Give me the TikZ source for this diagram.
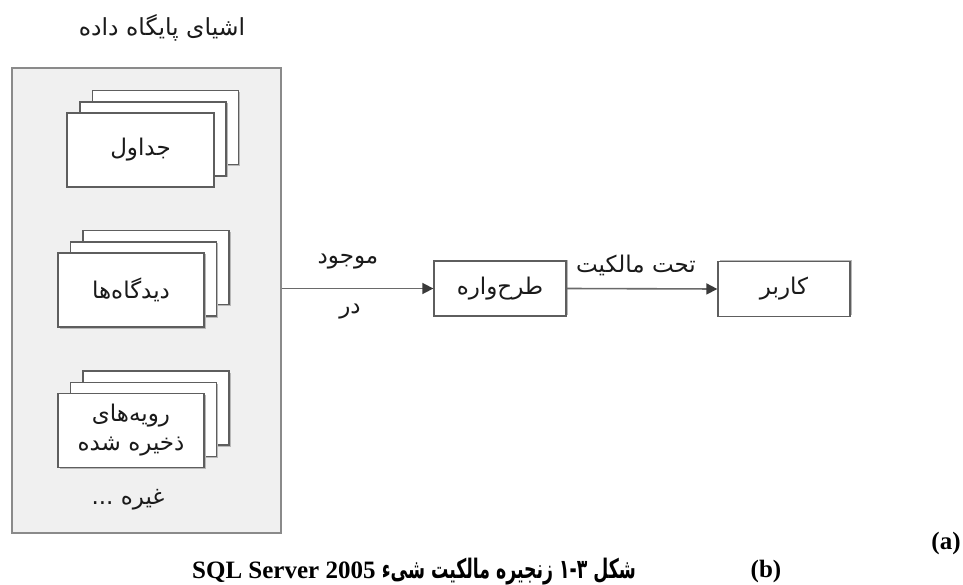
\documentclass[tikz,border=0pt]{standalone}
\usepackage{fontspec}
\setmainfont{Liberation Serif}
\newfontfamily\fa[Script=Arabic]{DejaVu Sans}
\TeXXeTstate=1
\usetikzlibrary{arrows.meta}
\definecolor{panelfill}{HTML}{F0F0F0}
\definecolor{panelline}{HTML}{8A8A8A}
\definecolor{cardline}{HTML}{5E5E5E}
\definecolor{shadowc}{HTML}{B8B8B8}
\definecolor{connc}{HTML}{6A6A6A}
\definecolor{tipc}{HTML}{3A3A3A}
\definecolor{txt}{HTML}{1A1A1A}
\tikzset{
  outerbox/.style={draw=panelline, fill=panelfill, line width=1.5pt},
  card/.style={draw=cardline, fill=white, line width=1.3pt, minimum width=146pt, minimum height=74pt, inner sep=0pt},
  cardshadow/.style={fill=shadowc, minimum width=146pt, minimum height=74pt, inner sep=0pt},
  flowbox/.style={draw=cardline, fill=white, line width=1.3pt, minimum width=132pt, minimum height=55pt, inner sep=0pt},
  conn/.style={draw=connc, line width=1.6pt, -{Triangle[length=11pt,width=11pt,color=tipc]}},
  lbl/.style={font=\fa\fontsize{23}{29}\selectfont, text=txt, inner sep=0pt, align=center},
  captxt/.style={font=\bfseries\fontsize{25}{27}\selectfont, text=black, inner sep=0pt}
}
\begin{document}
\begin{tikzpicture}[x=1pt,y=-1pt]
\useasboundingbox (0,0) rectangle (963,585);
% title
\node[lbl, font=\fa\fontsize{23.5}{28}\selectfont] (title) at (162,28) {\beginR اشیای پایگاه داده\endR};
% outer panel
\node[outerbox, minimum width=269pt, minimum height=465pt, inner sep=0pt] (db) at (146.5,300.5) {};
% stack 1
\foreach \dx/\dy/\nm in {25/-22.5/a3, 12.5/-11/a2}{
  \node[cardshadow] at (140.5+\dx+1.5,150+\dy+1.5) {};
  \node[card] (\nm) at (140.5+\dx,150+\dy) {};
}
\node[cardshadow] at (142,151.5) {};
\node[card, minimum width=147pt] (tables) at (140.5,150) {};
\node[lbl] (tablestxt) at (tables) {\beginR جداول\endR};
% stack 2
\foreach \dx/\dy/\nm in {25/-22.5/b3, 12.5/-11/b2}{
  \node[cardshadow] at (131+\dx+1.5,290+\dy+1.5) {};
  \node[card] (\nm) at (131+\dx,290+\dy) {};
}
\node[cardshadow] at (132.5,291.5) {};
\node[card] (views) at (131,290) {};
\node[lbl] (viewstxt) at (views) {\beginR دیدگاه‌ها\endR};
% stack 3
\foreach \dx/\dy/\nm in {25/-22.5/c3, 12.5/-11/c2}{
  \node[cardshadow] at (131+\dx+1.5,430.5+\dy+1.5) {};
  \node[card] (\nm) at (131+\dx,430.5+\dy) {};
}
\node[cardshadow] at (132.5,432) {};
\node[card] (procs) at (131,430.5) {};
\node[lbl] (procstxt) at (procs) {\beginR رویه‌های\endR\\\beginR ذخیره شده\endR};
% etc
\node[lbl] (etc) at (128,500) {\beginR غیره ...\endR};
% schema and user
\node[fill=shadowc, minimum width=132pt, minimum height=55pt, inner sep=0pt] at (501.5,287.5) {};
\node[flowbox] (schema) at (500,288.5) {};
\node[lbl] (schematxt) at (schema) {\beginR طرح‌واره\endR};
\node[fill=shadowc, minimum width=132pt, minimum height=55pt, inner sep=0pt] at (785.5,287.5) {};
\node[flowbox] (user) at (784,289) {};
\node[lbl] (usertxt) at (user) {\beginR کاربر\endR};
% connectors
\draw[conn] (db.east |- schema.west) -- (schema.west);
\draw[conn] (schema.east) -- (user.west);
\node[lbl] (l1) at (348,262) {\beginR موجود\endR};
\node[lbl] (l2) at (350,312) {\beginR در\endR};
\node[lbl] (l3) at (636,265) {\beginR تحت مالکیت\endR};
% captions
\node[captxt] (pa) at (946,543) {(a)};
\node[captxt] (pb) at (766,571) {(b)};
\node[captxt, anchor=base west] (caption) at (192,578) {SQL Server 2005 \scalebox{0.72}[1.12]{\fa\bfseries\fontsize{24}{26}\selectfont\beginR شکل \beginL ۱-۳\endL{} زنجیره مالکیت شیء\endR}};
\end{tikzpicture}
\end{document}
